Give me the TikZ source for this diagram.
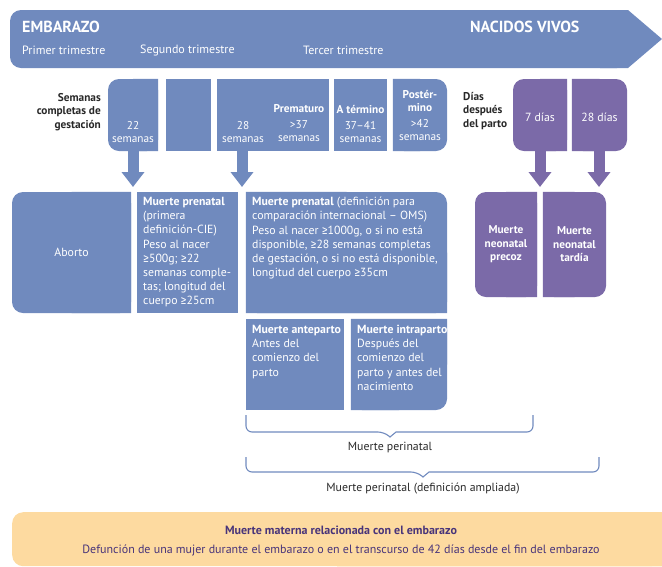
\documentclass[tikz,border=0pt]{standalone}
\usepackage{fontspec}
\setmainfont{PT Sans}
\newfontfamily\firafont{Fira Sans}
\newcommand{\mayig}{{\firafont ≥}}
\usetikzlibrary{arrows.meta}

\definecolor{azul}{RGB}{112,138,190}
\definecolor{morado}{RGB}{123,106,168}
\definecolor{naranja}{RGB}{253,218,160}
\definecolor{moradot}{RGB}{72,52,122}
\definecolor{gris}{RGB}{40,40,40}

\begin{document}
\begin{tikzpicture}[x=1pt, y=-1pt,
    caja/.style={fill=azul, inner sep=0pt},
    cajam/.style={fill=morado, inner sep=0pt},
    redondo/.style={rounded corners=11pt},
    txt/.style={text=white, inner sep=0pt, font=\fontsize{11.8}{14.2}\selectfont},
    etiq/.style={text=gris, inner sep=0pt, font=\fontsize{11.3}{13.8}\selectfont\bfseries},
    flecha/.style={line width=11pt, -{Triangle[width=22pt,length=15pt]}},
    llave/.style={azul, line width=1.1pt, rounded corners=6pt}]
  \useasboundingbox (0,0) rectangle (662,566);

  % Banda superior
  \fill[azul, redondo] (10,10) rectangle (628,68);
  \fill[azul] (600,10) -- (628,10) -- (662,39) -- (628,68) -- (600,68) -- cycle;
  \node[text=white, anchor=west, inner sep=0pt, font=\fontsize{16}{18}\selectfont\bfseries] (emb) at (22,27) {EMBARAZO};
  \node[text=white, anchor=west, inner sep=0pt, font=\fontsize{16}{18}\selectfont\bfseries] (vivos) at (470,27) {NACIDOS VIVOS};
  \node[txt, anchor=west, font=\fontsize{12}{14}\selectfont] (tri1) at (22,50) {Primer trimestre};
  \node[txt, anchor=west, font=\fontsize{12}{14}\selectfont] (tri2) at (140,50) {Segundo trimestre};
  \node[txt, anchor=west, font=\fontsize{12}{14}\selectfont] (tri3) at (303,50) {Tercer trimestre};

  % Semanas de gestacion
  \node[caja, redondo, minimum width=50, minimum height=72] (s22) at (133,115) {};
  \fill[azul] (s22.north east) rectangle (s22.center) (s22.south east) rectangle (s22.center);
  \node[caja, minimum width=45, minimum height=72] (smed) at (188.5,115) {};
  \node[caja, minimum width=112, minimum height=72] (s28) at (273,115) {};
  \node[caja, minimum width=53, minimum height=72] (sterm) at (360.5,115) {};
  \node[caja, redondo, minimum width=54, minimum height=72] (spost) at (420,115) {};
  \fill[azul] (spost.north west) rectangle (spost.center) (spost.south west) rectangle (spost.center);

  \node[etiq, anchor=east, align=right] (lsem) at (101,112) {Semanas\\completas de\\gestación};
  \node[txt, align=center, font=\fontsize{11.3}{13}\selectfont] (n22) at (133,132) {22\\semanas};
  \node[txt, align=center, font=\fontsize{11.3}{13}\selectfont] (n28) at (243,132) {28\\semanas};
  \node[txt, align=center, font=\fontsize{11.3}{13}\selectfont] (npre) at (299,123) {\textbf{Prematuro}\\[3pt]>37\\semanas};
  \node[txt, align=center, font=\fontsize{11.3}{13}\selectfont] (nterm) at (360.5,124) {\textbf{A término}\\[3pt]37–41\\semanas};
  \node[txt, align=center, font=\fontsize{11.3}{13}\selectfont] (npost) at (420,115) {\textbf{Postér-}\\\textbf{mino}\\[3pt]>42\\semanas};

  % Dias despues del parto
  \node[etiq, anchor=west, align=left] (ldias) at (463,111) {Días\\después\\del parto};
  \node[cajam, redondo, minimum width=54, minimum height=72] (d7) at (540,115) {};
  \fill[morado] (d7.north east) rectangle (d7.center) (d7.south east) rectangle (d7.center);
  \node[cajam, redondo, minimum width=55, minimum height=72] (d28) at (599.5,115) {};
  \fill[morado] (d28.north west) rectangle (d28.center) (d28.south west) rectangle (d28.center);
  \node[txt] (n7) at (540,117) {7 días};
  \node[txt] (n28d) at (599.5,117) {28 días};

  % Flechas
  \coordinate (t22) at (133,187);
  \coordinate (t28) at (242,187);
  \coordinate (t7) at (540,187);
  \coordinate (t28d) at (599,187);
  \draw[flecha, azul] (s22.south) -- (t22);
  \draw[flecha, azul] (s28.south -| t28) -- (t28);
  \draw[flecha, morado] (d7.south) -- (t7);
  \draw[flecha, morado] (d28.south -| t28d) -- (t28d);

  % Definiciones
  \node[caja, redondo, minimum width=119, minimum height=121] (abo) at (71.5,252.5) {};
  \fill[azul] (abo.north east) rectangle (abo.center) (abo.south east) rectangle (abo.center);
  \node[caja, minimum width=101, minimum height=121] (cie) at (187.5,252.5) {};
  \node[caja, redondo, minimum width=201, minimum height=121] (oms) at (346.5,252.5) {};
  \fill[azul] (oms.north west) rectangle (oms.center) (oms.south west) rectangle (oms.center)
    (oms.south east) rectangle (oms.center);
  \node[caja, minimum width=98, minimum height=91] (ante) at (295,364.5) {};
  \node[caja, redondo, minimum width=96, minimum height=91] (intra) at (399,364.5) {};
  \fill[azul] (intra.north west) rectangle (intra.center) (intra.south west) rectangle (intra.center)
    (intra.north east) rectangle (intra.center);
  \node[cajam, redondo, minimum width=62, minimum height=105] (prec) at (506,244.5) {};
  \fill[morado] (prec.north east) rectangle (prec.center) (prec.south east) rectangle (prec.center);
  \node[cajam, redondo, minimum width=63, minimum height=105] (tard) at (574.5,244.5) {};
  \fill[morado] (tard.north west) rectangle (tard.center) (tard.south west) rectangle (tard.center);

  \node[txt] (tabo) at (abo.center) {Aborto};
  \node[txt, anchor=north west, align=left] (tcie) at (143,197) {\textbf{Muerte prenatal}\\(primera\\definición-CIE)\\Peso al nacer\\\mayig500g; \mayig22\\semanas comple-\\tas; longitud del\\cuerpo \mayig25cm};
  \node[txt, anchor=north west, align=left] (toms) at (252,197) {\textbf{Muerte prenatal} (definición para\\comparación internacional – OMS)\\Peso al nacer \mayig1000g, o si no está\\disponible, \mayig28 semanas completas\\de gestación, o si no está disponible,\\longitud del cuerpo \mayig35cm};
  \node[txt, anchor=north west, align=left] (tante) at (252,325) {\textbf{Muerte anteparto}\\Antes del\\comienzo del\\parto};
  \node[txt, anchor=north west, align=left] (tintra) at (357,325) {\textbf{Muerte intraparto}\\Después del\\comienzo del\\parto y antes del\\nacimiento};
  \node[txt, align=center, font=\fontsize{11.3}{13.5}\selectfont\bfseries] (tprec) at (prec.center) {Muerte\\neonatal\\precoz};
  \node[txt, align=center, font=\fontsize{11.3}{13.5}\selectfont\bfseries] (ttard) at (tard.center) {Muerte\\neonatal\\tardía};

  % Llaves
  \coordinate (a1) at (246,415);
  \coordinate (b1) at (533,415);
  \coordinate (a2) at (246,457);
  \coordinate (b2) at (599,457);
  \draw[llave] (a1) -- (246,432) -- (384,432) [sharp corners] -- (390,437) -- (396,432) [rounded corners=6pt] -- (533,432) -- (b1);
  \draw[llave] (a2) -- (246,472) -- (417,472) [sharp corners] -- (423,477) -- (429,472) [rounded corners=6pt] -- (599,472) -- (b2);
  \node[txt, text=gris] (lper) at (390,447) {Muerte perinatal};
  \node[txt, text=gris] (lamp) at (423,489) {Muerte perinatal (definición ampliada)};

  % Muerte materna
  \node[fill=naranja, redondo, inner sep=0pt, minimum width=650, minimum height=54, anchor=north west] (mat) at (12,512) {};
  \fill[naranja] (mat.north east) rectangle (mat.center) (mat.south east) rectangle (mat.center);
  \node[txt, text=moradot, font=\fontsize{12}{14}\selectfont\bfseries] (tmat) at (341,530) {Muerte materna relacionada con el embarazo};
  \node[txt, text=moradot, font=\fontsize{12}{14}\selectfont] (tdef) at (341,550) {Defunción de una mujer durante el embarazo o en el transcurso de 42 días desde el fin del embarazo};
\end{tikzpicture}
\end{document}
